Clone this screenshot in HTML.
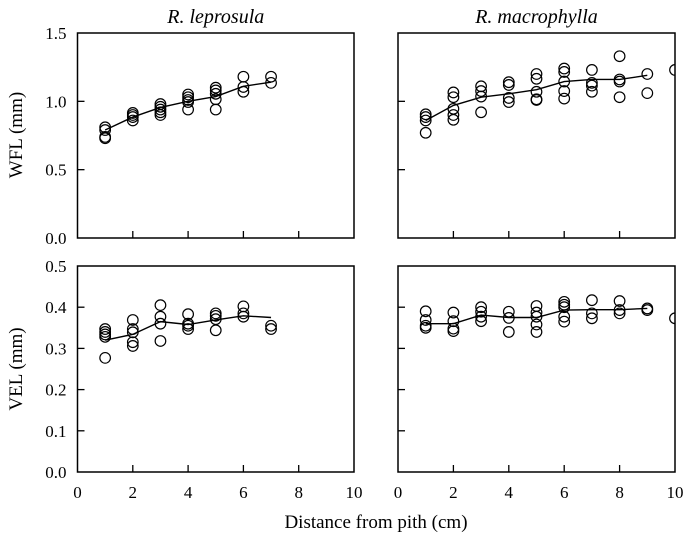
<!DOCTYPE html>
<html><head><meta charset="utf-8"><style>
body{margin:0;background:#fff;}
svg{display:block;font-family:"Liberation Serif",serif;}
</style></head><body>
<svg id="chart" width="685" height="538" viewBox="0 0 685 538" xmlns="http://www.w3.org/2000/svg"></svg>
<script>
// x categories
const distances = [1,2,3,4,5,6,7,8,9,10];
// WFL R. leprosula points per distance
const wflLepPts = [[0.81,0.79,0.74,0.73],[0.915,0.90,0.86,0.885],[0.98,0.96,0.92,0.90,0.94],[1.05,1.03,1.01,0.94,0.995],[1.10,1.08,1.015,0.94,1.055],[1.18,1.105,1.07],[1.18,1.135]];
const wflLepLine = [0.79,0.885,0.955,1.0,1.035,1.11,1.14];
// WFL R. macrophylla
const wflMacPts = [[0.905,0.885,0.86,0.77],[1.065,1.03,0.945,0.90,0.865],[1.11,1.075,1.035,0.92],[1.14,1.12,1.025,0.995],[1.2,1.165,1.07,1.015,1.01],[1.24,1.215,1.145,1.075,1.02],[1.23,1.135,1.115,1.07],[1.33,1.16,1.145,1.03],[1.2,1.06],[1.23]];
const wflMacLine = [0.86,0.97,1.03,1.055,1.085,1.145,1.16,1.16,1.19];
// VEL R. leprosula
const velLepPts = [[0.347,0.34,0.334,0.328,0.277],[0.369,0.347,0.339,0.315,0.306],[0.405,0.377,0.36,0.318],[0.383,0.36,0.355,0.347],[0.385,0.379,0.371,0.344],[0.402,0.385,0.377],[0.355,0.347]];
const velLepLine = [0.32,0.334,0.365,0.358,0.369,0.379,0.375];
// VEL R. macrophylla
const velMacPts = [[0.39,0.369,0.355,0.35],[0.387,0.366,0.348,0.342],[0.40,0.389,0.377,0.366],[0.389,0.374,0.34],[0.403,0.387,0.377,0.358,0.34],[0.413,0.406,0.40,0.377,0.365],[0.417,0.385,0.373],[0.415,0.393,0.385],[0.397,0.393],[0.373]];
const velMacLine = [0.36,0.36,0.381,0.375,0.375,0.393,0.394,0.394,0.397];
const xTicks = ['0','2','4','6','8','10'];
const wflTicks = ['0.0','0.5','1.0','1.5'];
const velTicks = ['0.0','0.1','0.2','0.3','0.4','0.5'];

const NS='http://www.w3.org/2000/svg';
const svg=document.getElementById('chart');
function mk(tag,attrs,parent){const e=document.createElementNS(NS,tag);for(const k in attrs)e.setAttribute(k,attrs[k]);(parent||svg).appendChild(e);return e;}

function panel(id,L,R,T,B,ymax,pts,line,yTicks,showX,title){
  const g=mk('g',{});
  
  
  const xs=v=>L+(R-L)*v/10;
  const ys=v=>B-(B-T)*v/ymax;
  const cp=mk('clipPath',{id:'cp-'+id},g);
  mk('rect',{x:L,y:T,width:R-L,height:B-T},cp);
  // ticks
  for(let i=1;i<5;i++){const t=mk('line',{x1:xs(i*2),x2:xs(i*2),y1:B,y2:B-7,stroke:'#000','stroke-width':1.3},g);
    }
  yTicks.forEach((lab,i)=>{const v=parseFloat(lab);
    if(i>0&&i<yTicks.length-1){const t=mk('line',{x1:L,x2:L+7,y1:ys(v),y2:ys(v),stroke:'#000','stroke-width':1.3},g);
      }
    if(L<200){const tx=mk('text',{x:L-11,y:ys(v)+6,'text-anchor':'end','font-size':17},g);tx.textContent=lab;
      }
  });
  if(showX){xTicks.forEach(lab=>{const tx=mk('text',{x:xs(+lab),y:B+26,'text-anchor':'middle','font-size':17},g);tx.textContent=lab;
    });}
  if(title){const tt=mk('text',{x:(L+R)/2,y:T-10,'text-anchor':'middle','font-size':20,'font-style':'italic'},g);tt.textContent=title;
    }
  const dg=mk('g',{'clip-path':'url(#cp-'+id+')'},g);
  const d=line.map((v,i)=>(i?'L':'M')+xs(distances[i])+' '+ys(v)).join(' ');
  const ln=mk('path',{d:d,fill:'none',stroke:'#000','stroke-width':1.4},dg);
  
  pts.forEach((arr,i)=>arr.forEach(v=>{const c=mk('circle',{cx:xs(distances[i]),cy:ys(v),r:5.3,fill:'none',stroke:'#000','stroke-width':1.2},dg);
    }));
  const fr=mk('rect',{x:L,y:T,width:R-L,height:B-T,fill:'none',stroke:'#000','stroke-width':1.5},g);
  
}
panel('wfl-leprosula',77.5,354,33,238,1.5,wflLepPts,wflLepLine,wflTicks,false,'R. leprosula');
panel('wfl-macrophylla',398,675,33,238,1.5,wflMacPts,wflMacLine,wflTicks,false,'R. macrophylla');
panel('vel-leprosula',77.5,354,266,472,0.5,velLepPts,velLepLine,velTicks,true,null);
panel('vel-macrophylla',398,675,266,472,0.5,velMacPts,velMacLine,velTicks,true,null);
const a=mk('text',{x:0,y:0,transform:'translate(22,135) rotate(-90)','text-anchor':'middle','font-size':19});a.textContent='WFL (mm)';

const b=mk('text',{x:0,y:0,transform:'translate(22,369) rotate(-90)','text-anchor':'middle','font-size':19});b.textContent='VEL (mm)';

const c=mk('text',{x:376,y:528,'text-anchor':'middle','font-size':19});c.textContent='Distance from pith (cm)';

</script>
</body></html>
